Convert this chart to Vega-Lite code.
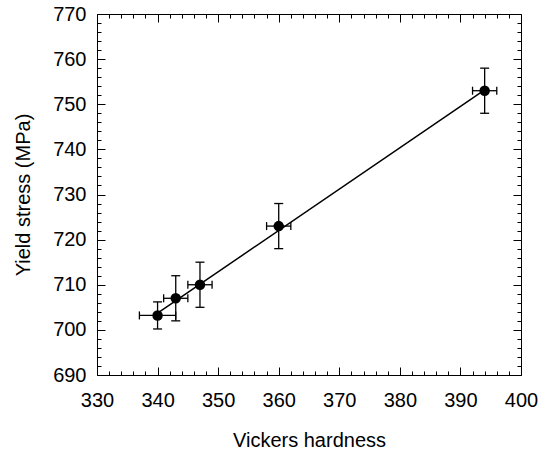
{
  "$schema": "https://vega.github.io/schema/vega-lite/v6.json",
  "width": 424,
  "height": 361,
  "autosize": {"type": "none"},
  "padding": {"left": 97, "top": 14, "right": 22, "bottom": 80},
  "background": "white",
  "config": {
    "view": {"stroke": "black", "strokeWidth": 1},
    "axis": {
      "domain": false,
      "grid": false,
      "tickColor": "black",
      "tickWidth": 1,
      "labelColor": "black",
      "labelFont": "Liberation Sans",
      "labelFontSize": 20,
      "labelFlush": false,
      "labelOverlap": false,
      "titleFont": "Liberation Sans",
      "titleFontSize": 20,
      "titleFontWeight": "normal",
      "titleColor": "black"
    }
  },
  "datasets": {
    "pts": [
      {"hv": 340, "ys": 703.2, "xlo": 337, "xhi": 343, "ylo": 700.2, "yhi": 706.2},
      {"hv": 343, "ys": 707, "xlo": 341, "xhi": 345, "ylo": 702, "yhi": 712},
      {"hv": 347, "ys": 710, "xlo": 345, "xhi": 349, "ylo": 705, "yhi": 715},
      {"hv": 360, "ys": 723, "xlo": 358, "xhi": 362, "ylo": 718, "yhi": 728},
      {"hv": 394, "ys": 753, "xlo": 392, "xhi": 396, "ylo": 748, "yhi": 758}
    ],
    "fit": [
      {"hv": 340, "ys": 703.7},
      {"hv": 394, "ys": 753.2}
    ]
  },
  "resolve": {"axis": {"x": "independent", "y": "independent"}},
  "layer": [
    {
      "data": {"name": "pts"},
      "mark": {"type": "rule", "color": "black", "strokeWidth": 1.3},
      "encoding": {
        "x": {
          "field": "hv", "type": "quantitative",
          "scale": {"domain": [330, 400], "nice": false, "zero": false},
          "axis": {
            "orient": "bottom",
            "title": "Vickers hardness",
            "tickSize": -8,
            "values": [330, 340, 350, 360, 370, 380, 390, 400],
            "labelPadding": 23,
            "titlePadding": 20
          }
        },
        "y": {
          "field": "ylo", "type": "quantitative",
          "scale": {"domain": [690, 770], "nice": false, "zero": false},
          "axis": {
            "orient": "left",
            "title": "Yield stress (MPa)",
            "tickSize": -8,
            "values": [690, 700, 710, 720, 730, 740, 750, 760, 770],
            "labelPadding": 19,
            "titlePadding": 19
          }
        },
        "y2": {"field": "yhi"}
      }
    },
    {
      "data": {"name": "pts"},
      "mark": {"type": "rule", "color": "black", "strokeWidth": 1.3},
      "encoding": {
        "x": {
          "field": "xlo", "type": "quantitative",
          "axis": {
            "orient": "top",
            "title": null,
            "labels": false,
            "tickSize": -8,
            "values": [330, 340, 350, 360, 370, 380, 390, 400]
          }
        },
        "x2": {"field": "xhi"},
        "y": {
          "field": "ys", "type": "quantitative",
          "axis": {
            "orient": "right",
            "title": null,
            "labels": false,
            "tickSize": -8,
            "values": [690, 700, 710, 720, 730, 740, 750, 760, 770]
          }
        }
      }
    },
    {
      "data": {"name": "pts"},
      "mark": {"type": "tick", "orient": "horizontal", "color": "black", "size": 9, "thickness": 1.3, "opacity": 1},
      "encoding": {
        "x": {
          "field": "hv", "type": "quantitative",
          "axis": {
            "orient": "bottom",
            "title": null,
            "labels": false,
            "tickSize": -4,
            "values": [332,334,336,338,342,344,346,348,352,354,356,358,362,364,366,368,372,374,376,378,382,384,386,388,392,394,396,398]
          }
        },
        "y": {
          "field": "ylo", "type": "quantitative",
          "axis": {
            "orient": "left",
            "title": null,
            "labels": false,
            "tickSize": -4,
            "values": [692,694,696,698,702,704,706,708,712,714,716,718,722,724,726,728,732,734,736,738,742,744,746,748,752,754,756,758,762,764,766,768]
          }
        }
      }
    },
    {
      "data": {"name": "pts"},
      "mark": {"type": "tick", "orient": "horizontal", "color": "black", "size": 9, "thickness": 1.3, "opacity": 1},
      "encoding": {
        "x": {
          "field": "hv", "type": "quantitative",
          "axis": {
            "orient": "top",
            "title": null,
            "labels": false,
            "tickSize": -4,
            "values": [332,334,336,338,342,344,346,348,352,354,356,358,362,364,366,368,372,374,376,378,382,384,386,388,392,394,396,398]
          }
        },
        "y": {
          "field": "yhi", "type": "quantitative",
          "axis": {
            "orient": "right",
            "title": null,
            "labels": false,
            "tickSize": -4,
            "values": [692,694,696,698,702,704,706,708,712,714,716,718,722,724,726,728,732,734,736,738,742,744,746,748,752,754,756,758,762,764,766,768]
          }
        }
      }
    },
    {
      "data": {"name": "pts"},
      "mark": {"type": "tick", "orient": "vertical", "color": "black", "size": 8, "thickness": 1.3, "opacity": 1},
      "encoding": {
        "x": {"field": "xlo", "type": "quantitative", "axis": null},
        "y": {"field": "ys", "type": "quantitative", "axis": null}
      }
    },
    {
      "data": {"name": "pts"},
      "mark": {"type": "tick", "orient": "vertical", "color": "black", "size": 8, "thickness": 1.3, "opacity": 1},
      "encoding": {
        "x": {"field": "xhi", "type": "quantitative", "axis": null},
        "y": {"field": "ys", "type": "quantitative", "axis": null}
      }
    },
    {
      "data": {"name": "fit"},
      "mark": {"type": "line", "color": "black", "strokeWidth": 1.5},
      "encoding": {
        "x": {"field": "hv", "type": "quantitative", "axis": null},
        "y": {"field": "ys", "type": "quantitative", "axis": null}
      }
    },
    {
      "data": {"name": "pts"},
      "mark": {"type": "point", "shape": "circle", "filled": true, "color": "black", "size": 110, "opacity": 1},
      "encoding": {
        "x": {"field": "hv", "type": "quantitative", "axis": null},
        "y": {"field": "ys", "type": "quantitative", "axis": null}
      }
    }
  ]
}
